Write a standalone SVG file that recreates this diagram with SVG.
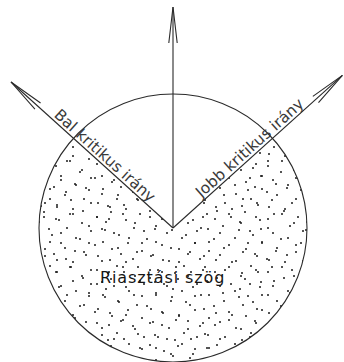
<svg xmlns="http://www.w3.org/2000/svg" width="344" height="362" viewBox="0 0 344 362">
  <style>
    .ln { stroke: #2a2a2a; stroke-width: 1.1; fill: none; }
    .lbl { font-family: "DejaVu Sans", Verdana, sans-serif; font-size: 15.5px; fill: #3a3a3a; }
    .main { font-family: "DejaVu Sans", Verdana, sans-serif; font-size: 16px; fill: #151515; letter-spacing: 0.9px; }
    .dot { fill: #1a1a1a; }
  </style>
  <defs>
    <marker id="arrow" markerUnits="userSpaceOnUse" markerWidth="40" markerHeight="12" viewBox="-37 -6 40 12" refX="0" refY="0" orient="auto">
      <path d="M-36,-4.2 L0,0 L-36,4.2" fill="none" stroke="#2a2a2a" stroke-width="1.1"/>
    </marker>
    <pattern id="stipA" patternUnits="userSpaceOnUse" width="53" height="53">
      <g class="dot">
        <circle cx="3" cy="7" r="1"/><circle cx="17" cy="2" r="1"/><circle cx="29" cy="11" r="1"/>
        <circle cx="44" cy="5" r="1"/><circle cx="8" cy="21" r="1"/><circle cx="23" cy="26" r="1"/>
        <circle cx="38" cy="19" r="1"/><circle cx="50" cy="30" r="1"/><circle cx="12" cy="36" r="1"/>
        <circle cx="31" cy="40" r="1"/><circle cx="45" cy="44" r="1"/><circle cx="4" cy="48" r="1"/>
        <circle cx="20" cy="50" r="1"/><circle cx="36" cy="31" r="1"/><circle cx="49" cy="17" r="1"/>
      </g>
    </pattern>
    <pattern id="stipB" patternUnits="userSpaceOnUse" width="67" height="67" x="11" y="7">
      <g class="dot">
        <circle cx="5" cy="3" r="1"/><circle cx="19" cy="9" r="1"/><circle cx="33" cy="4" r="1"/>
        <circle cx="48" cy="12" r="1"/><circle cx="62" cy="6" r="1"/><circle cx="11" cy="18" r="1"/>
        <circle cx="27" cy="22" r="1"/><circle cx="41" cy="27" r="1"/><circle cx="56" cy="20" r="1"/>
        <circle cx="2" cy="31" r="1"/><circle cx="17" cy="37" r="1"/><circle cx="34" cy="41" r="1"/>
        <circle cx="50" cy="35" r="1"/><circle cx="64" cy="43" r="1"/><circle cx="8" cy="47" r="1"/>
        <circle cx="24" cy="53" r="1"/><circle cx="39" cy="58" r="1"/><circle cx="55" cy="51" r="1"/>
        <circle cx="13" cy="62" r="1"/><circle cx="30" cy="65" r="1"/><circle cx="46" cy="64" r="1"/>
        <circle cx="60" cy="59" r="1"/><circle cx="43" cy="46" r="1"/><circle cx="28" cy="14" r="1"/>
      </g>
    </pattern>
    <clipPath id="sector">
      <path d="M173,228 L73.4,138.4 A134,134 0 1 0 272.6,138.4 Z"/>
    </clipPath>
  </defs>

  <g id="zone">
    <g clip-path="url(#sector)">
      <rect x="30" y="90" width="290" height="280" fill="url(#stipA)"/>
      <rect x="30" y="90" width="290" height="280" fill="url(#stipB)"/>
    </g>
    <circle class="ln" cx="173" cy="228" r="134"/>
  </g>

  <g id="connectors">
    <line class="ln" x1="173" y1="228" x2="173" y2="7" marker-end="url(#arrow)"/>
    <line class="ln" x1="173" y1="228" x2="11" y2="82" marker-end="url(#arrow)"/>
    <line class="ln" x1="173" y1="228" x2="342.4" y2="75.4" marker-end="url(#arrow)"/>
  </g>

  <g id="left-label">
    <text class="lbl" transform="translate(173,228) rotate(42)" x="-164" y="-3">Bal kritikus irány</text>
  </g>
  <g id="right-label">
    <text class="lbl" transform="translate(173,228) rotate(-42)" x="41" y="-3">Jobb kritikus irány</text>
  </g>
  <g id="alarm-label">
    <text class="main" x="100" y="283">Riasztási szög</text>
  </g>
</svg>
